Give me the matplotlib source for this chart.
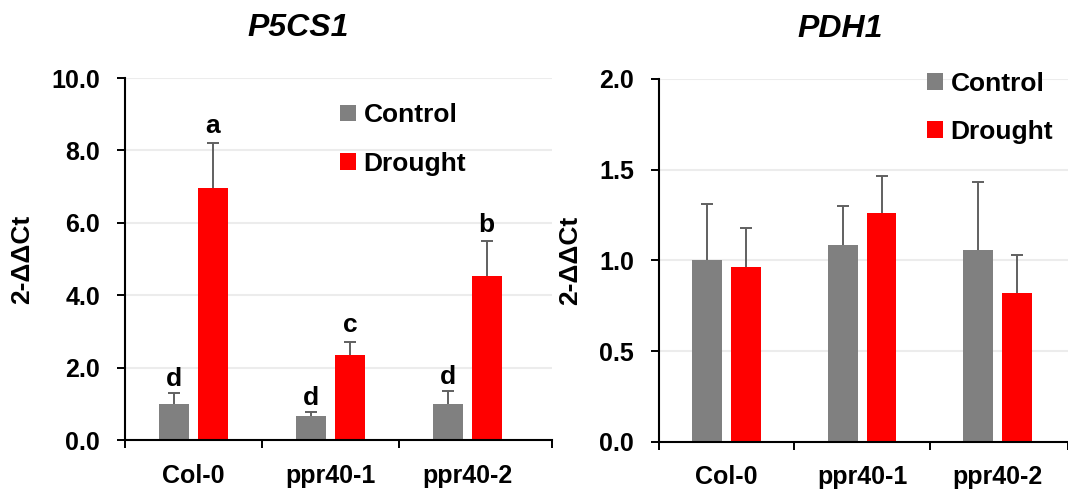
import matplotlib
matplotlib.use('Agg')
import matplotlib.pyplot as plt
import numpy as np

plt.rcParams['font.family'] = ['Liberation Sans', 'DejaVu Sans']
plt.rcParams['font.weight'] = 'bold'

genotypes = ['Col-0', 'ppr40-1', 'ppr40-2']
series_names = ['Control', 'Drought']

# P5CS1 relative expression (mean, upper SD)
p5cs1_control = [1.00, 0.66, 1.00]
p5cs1_control_err = [0.29, 0.11, 0.36]
p5cs1_drought = [6.95, 2.35, 4.53]
p5cs1_drought_err = [1.25, 0.36, 0.96]
p5cs1_control_letters = ['d', 'd', 'd']
p5cs1_drought_letters = ['a', 'c', 'b']

# PDH1 relative expression (mean, upper SD)
pdh1_control = [1.00, 1.086, 1.057]
pdh1_control_err = [0.31, 0.214, 0.375]
pdh1_drought = [0.963, 1.259, 0.818]
pdh1_drought_err = [0.217, 0.204, 0.213]

GREY = '#808080'
RED = '#ff0000'
ERR = '#606060'
W, H = 1068, 493


def px_to_rect(x0, x1, y_top, y_bottom):
    return [x0 / W, (H - y_bottom) / H, (x1 - x0) / W, (y_bottom - y_top) / H]


def draw_panel(ax, ctrl, ctrl_err, drt, drt_err, ymax, ystep, title, title_x,
               xmax, legend_anchor, ctrl_letters=None, drt_letters=None):
    x = np.arange(len(genotypes))
    width = 0.22
    off = 0.143
    err_kw = dict(ecolor=ERR, elinewidth=1.4, capsize=4.5, capthick=1.4)
    zeros = np.zeros(len(x))
    b1 = ax.bar(x - off, ctrl, width, color=GREY, label=series_names[0],
                yerr=[zeros, ctrl_err], error_kw=err_kw, zorder=2)
    b2 = ax.bar(x + off, drt, width, color=RED, label=series_names[1],
                yerr=[zeros, drt_err], error_kw=err_kw, zorder=2)
    # only the upper whisker is shown, drop the caps sitting on the bar tops
    for b in (b1, b2):
        caps = b.errorbar.lines[1]
        caps[0].set_visible(False)

    if ctrl_letters:
        for xi, v, e, s in zip(x - off, ctrl, ctrl_err, ctrl_letters):
            ax.annotate(s, (xi, v + e), xytext=(0, 5), textcoords='offset points',
                        ha='center', va='baseline', fontsize=19, fontweight='bold')
        for xi, v, e, s in zip(x + off, drt, drt_err, drt_letters):
            ax.annotate(s, (xi, v + e), xytext=(0, 7), textcoords='offset points',
                        ha='center', va='baseline', fontsize=19, fontweight='bold')

    ax.set_xlim(-0.5, xmax)
    ax.set_ylim(0, ymax)
    ax.set_yticks(np.arange(0, ymax + ystep / 2, ystep))
    ax.yaxis.set_major_formatter(matplotlib.ticker.FormatStrFormatter('%.1f'))
    ax.set_xticks(x)
    ax.set_xticklabels(genotypes)
    ax.set_xticks([-0.5, 0.5, 1.5, xmax], minor=True)
    ax.tick_params(axis='x', which='major', length=0, pad=17, labelsize=18)
    ax.tick_params(axis='x', which='minor', length=6, width=1.4, direction='out')
    ax.tick_params(axis='y', length=6, width=1.4, direction='out', pad=12,
                   labelsize=18)
    for lab in ax.get_xticklabels() + ax.get_yticklabels():
        lab.set_fontweight('bold')

    for side in ('top', 'right'):
        ax.spines[side].set_visible(False)
    for side in ('left', 'bottom'):
        ax.spines[side].set_linewidth(1.5)
    ax.yaxis.grid(True, color='#ececec', linewidth=1.5)
    ax.set_axisbelow(True)

    ax.set_ylabel('2-ΔΔCt', fontsize=19, fontweight='bold', labelpad=12)
    ax.set_title(title, x=title_x, fontsize=23, fontweight='bold',
                 style='italic', pad=30)

    ax.legend(handles=[b1, b2], loc='upper left', bbox_to_anchor=legend_anchor,
              frameon=False, fontsize=19, handlelength=0.6, handleheight=0.6,
              handletextpad=0.3, labelspacing=0.92, borderpad=0, borderaxespad=0)


fig = plt.figure(figsize=(W / 100, H / 100), dpi=100)
ax1 = fig.add_axes(px_to_rect(125, 552, 78, 440))
ax2 = fig.add_axes(px_to_rect(659, 1068, 79, 441.7))

draw_panel(ax1, p5cs1_control, p5cs1_control_err, p5cs1_drought, p5cs1_drought_err,
           10.0, 2.0, 'P5CS1', 0.405, 2.62, (0.503, 0.93),
           p5cs1_control_letters, p5cs1_drought_letters)
draw_panel(ax2, pdh1_control, pdh1_control_err, pdh1_drought, pdh1_drought_err,
           2.0, 0.5, 'PDH1', 0.443, 2.52, (0.655, 1.02))

fig.savefig('out.png', dpi=100)
